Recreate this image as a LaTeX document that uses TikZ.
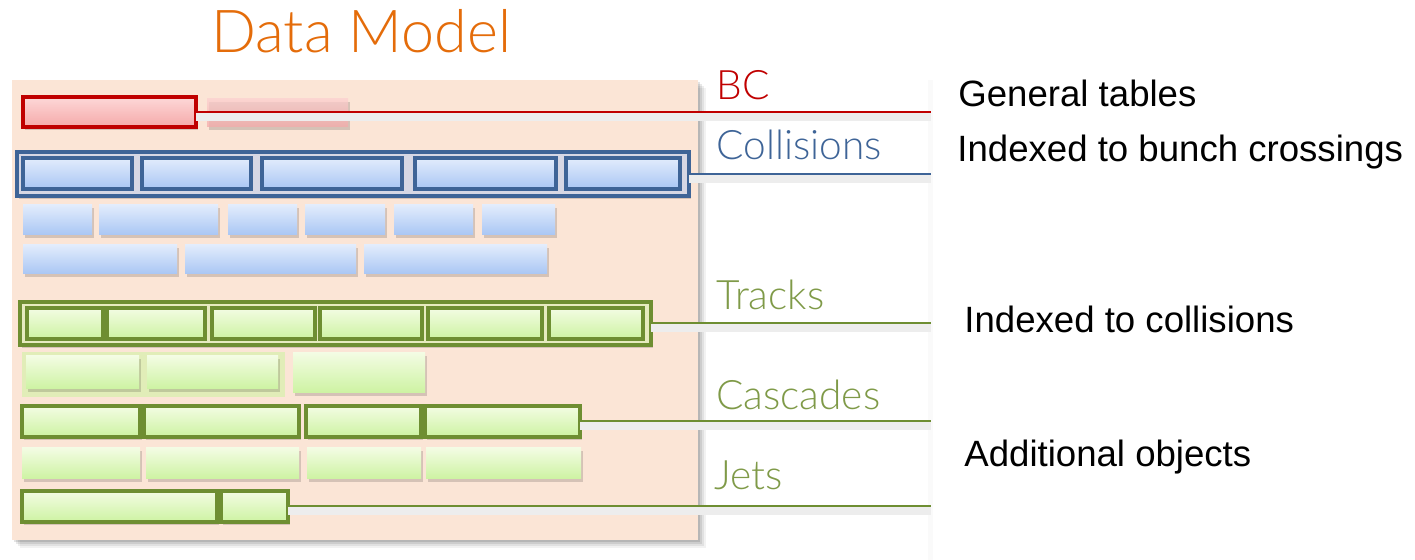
\documentclass[tikz,border=0pt]{standalone}
\usepackage{fontspec}
\setmainfont{Lato Light}
\newfontfamily\arialfont{Liberation Sans}
\usetikzlibrary{fit,shadows}

\definecolor{peach}{HTML}{FBE5D6}
\definecolor{titleorange}{HTML}{E46C0A}
\definecolor{bcred}{HTML}{C00000}
\definecolor{colblue}{HTML}{3E6497}
\definecolor{trkgreen}{HTML}{6E8E32}
\definecolor{lblgreen}{HTML}{7F9A48}
\definecolor{bluetop}{HTML}{E2ECFC}
\definecolor{bluebot}{HTML}{A9C6F4}
\definecolor{greentop}{HTML}{F3FCE3}
\definecolor{greenbot}{HTML}{CDF3A2}
\definecolor{redtop}{HTML}{FDD8D8}
\definecolor{redbot}{HTML}{F5A9A9}

\tikzset{
  cell/.style={inner sep=0pt, outer sep=0pt, rectangle},
  shd/.style={drop shadow={shadow xshift=1.2pt, shadow yshift=-1.5pt, opacity=0.15, fill=black}},
  lightshd/.style={drop shadow={shadow xshift=0.8pt, shadow yshift=-1pt, opacity=0.08, fill=black}},
  redcell/.style={cell, shd, top color=redtop, bottom color=redbot, draw=bcred, line width=1.7pt},
  redfaint/.style={cell, shd, top color=redtop!80!redbot, bottom color=redbot, opacity=0.75},
  bluecell/.style={cell, shd, top color=bluetop, bottom color=bluebot},
  blueframed/.style={cell, lightshd, top color=bluetop, bottom color=bluebot, draw=colblue, line width=1.6pt},
  blueframe/.style={cell, draw=colblue, fill=bluebot!45!peach, line width=1.9pt, shd},
  greencell/.style={cell, shd, top color=greentop, bottom color=greenbot},
  greenframed/.style={greencell, draw=trkgreen, line width=1.6pt},
  greeninner/.style={cell, lightshd, top color=greentop, bottom color=greenbot, draw=trkgreen, line width=1.6pt},
  greenframe/.style={cell, draw=trkgreen, fill=greenbot!45!peach, line width=1.9pt, shd},
  link/.style={line width=1pt},
  linkshadow/.style={line width=4pt, draw=black!7},
  tag/.style={anchor=base west, inner sep=0pt, font=\fontsize{20.3}{24}\selectfont},
  note/.style={anchor=base west, inner sep=0pt, font=\arialfont\fontsize{18.3}{22}\selectfont},
}

% place a table cell spanning two corners given in pixel-like units
\newcommand{\cellbox}[6]{\node[#1, fit={(#3,#4) (#5,#6)}] (#2) {};}

\begin{document}
\begin{tikzpicture}[x=0.5pt, y=-0.5pt]
\useasboundingbox (0,0) rectangle (1415,560);

% title
\node[anchor=base west, inner sep=0pt, text=titleorange, font=\fontsize{29.6}{36}\selectfont] (title) at (211,53) {Data Model};

% soft shadow and backdrop of the table area
\foreach \d/\o in {8/0.05, 6/0.07, 4/0.09, 2/0.11}
  \fill[black, opacity=\o] (12+\d,80+\d) rectangle (698+\d,540+\d);
\fill[peach] (12,80) rectangle (698,540);

% faint edge of the notes column
\fill[black, opacity=0.02] (928,80) rectangle (933,560);

% right end of all connectors
\coordinate (rend) at (931,0);

% ---------- BC ----------
\cellbox{redfaint}{bc2}{207}{99}{348}{127}
\cellbox{redcell}{bc1}{23}{97}{196}{127}
\draw[linkshadow] ([yshift=-2.5pt]bc1.east) -- ([yshift=-2.5pt]bc1.east -| rend);
\draw[link, bcred] (bc1.east) -- (bc1.east -| rend);
\node[tag, text=bcred] (lbc) at (716,100) {BC};

% ---------- Collisions ----------
\cellbox{blueframe}{col}{17}{152}{689}{196}
\cellbox{blueframed}{c1}{23}{158}{132}{189}
\cellbox{blueframed}{c2}{142}{158}{251}{189}
\cellbox{blueframed}{c3}{262}{158}{402}{189}
\cellbox{blueframed}{c4}{415}{158}{556}{189}
\cellbox{blueframed}{c5}{566}{158}{680}{189}
\draw[linkshadow] ([yshift=-2.5pt]col.east) -- ([yshift=-2.5pt]col.east -| rend);
\draw[link, colblue] (col.east) -- (col.east -| rend);
\node[tag, text=colblue] (lcol) at (716,160) {Collisions};

% unframed blue rows
\cellbox{bluecell}{b11}{23}{205}{92}{235}
\cellbox{bluecell}{b12}{99}{205}{218}{235}
\cellbox{bluecell}{b13}{228}{205}{297}{235}
\cellbox{bluecell}{b14}{305}{205}{385}{235}
\cellbox{bluecell}{b15}{394}{205}{473}{235}
\cellbox{bluecell}{b16}{482}{205}{555}{235}
\cellbox{bluecell}{b21}{23}{245}{177}{274}
\cellbox{bluecell}{b22}{185}{245}{356}{274}
\cellbox{bluecell}{b23}{364}{245}{547}{274}

% ---------- Tracks ----------
\cellbox{greenframe}{trk}{20}{302}{651}{345}
\cellbox{greeninner}{t1}{27}{308}{103}{339}
\cellbox{greeninner}{t2}{107}{308}{205}{339}
\cellbox{greeninner}{t3}{212}{308}{315}{339}
\cellbox{greeninner}{t4}{320}{308}{422}{339}
\cellbox{greeninner}{t5}{428}{308}{542}{339}
\cellbox{greeninner}{t6}{549}{308}{643}{339}
\draw[linkshadow] ([yshift=-2.5pt]trk.east) -- ([yshift=-2.5pt]trk.east -| rend);
\draw[link, trkgreen] (trk.east) -- (trk.east -| rend);
\node[tag, text=lblgreen] (ltrk) at (716,310) {Tracks};

% unframed green row below Tracks
\fill[greenbot!70!peach, opacity=0.8] (22,352) rectangle (285,397);
\cellbox{greencell}{g11}{26}{356}{139}{389}
\cellbox{greencell}{g12}{147}{356}{278}{389}
\cellbox{greencell}{g13}{293}{353}{425}{393}

% ---------- Cascades ----------
\cellbox{greenframed}{k1}{22}{406}{140}{437}
\cellbox{greenframed}{k2}{144}{406}{299}{437}
\cellbox{greenframed}{k3}{306}{406}{421}{437}
\cellbox{greenframed}{k4}{425}{406}{580}{437}
\draw[linkshadow] ([yshift=-2.5pt]k4.east) -- ([yshift=-2.5pt]k4.east -| rend);
\draw[link, trkgreen] (k4.east) -- (k4.east -| rend);
\node[tag, text=lblgreen] (lcas) at (716,410) {Cascades};

\cellbox{greencell}{h1}{22}{448}{140}{479}
\cellbox{greencell}{h2}{146}{448}{299}{479}
\cellbox{greencell}{h3}{307}{448}{421}{479}
\cellbox{greencell}{h4}{426}{448}{581}{479}

% ---------- Jets ----------
\cellbox{greenframed}{j1}{22}{491}{217}{522}
\cellbox{greenframed}{j2}{221}{491}{288}{522}
\draw[linkshadow] ([yshift=-2.5pt]j2.east) -- ([yshift=-2.5pt]j2.east -| rend);
\draw[link, trkgreen] (j2.east) -- (j2.east -| rend);
\node[tag, text=lblgreen] (ljet) at (714,490) {Jets};

% ---------- notes on the right ----------
\node[note] (n1) at (958,107) {General tables};
\node[note] (n2) at (957,162) {Indexed to bunch crossings};
\node[note] (n3) at (964,333) {Indexed to collisions};
\node[note] (n4) at (964,467) {Additional objects};
\end{tikzpicture}
\end{document}
